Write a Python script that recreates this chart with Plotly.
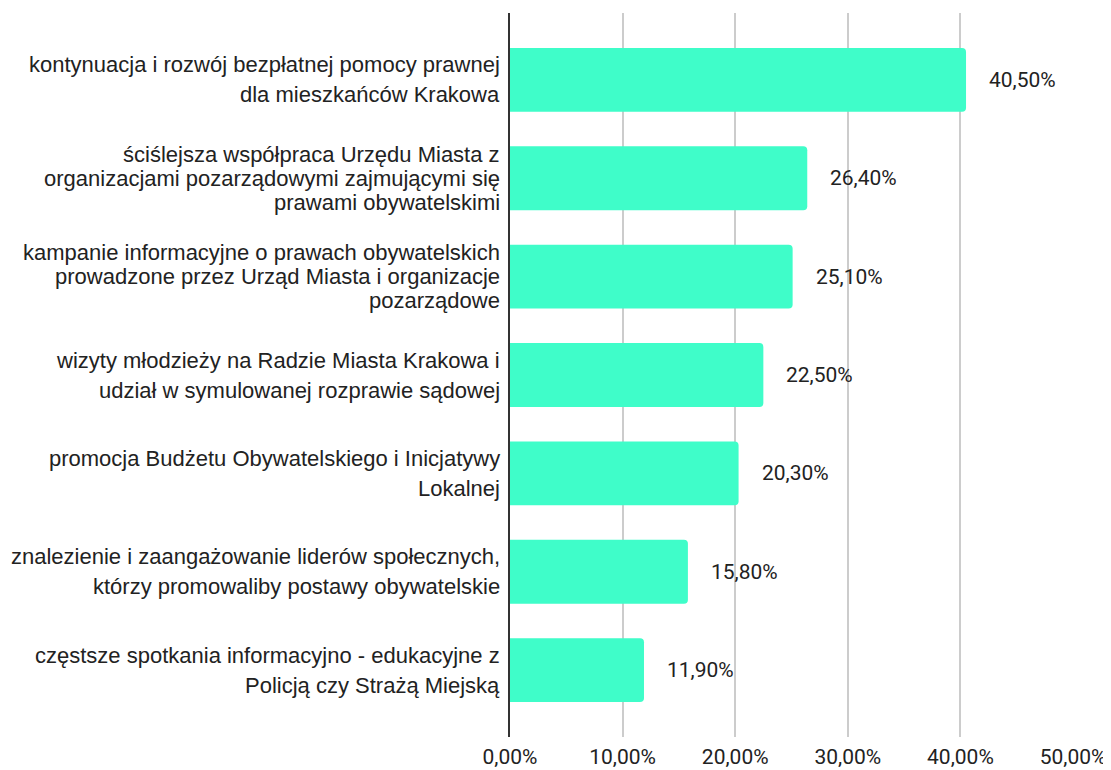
import plotly.graph_objects as go

category_lines = [
    ["kontynuacja i rozwój bezpłatnej pomocy prawnej", "dla mieszkańców Krakowa"],
    ["ściślejsza współpraca Urzędu Miasta z", "organizacjami pozarządowymi zajmującymi się", "prawami obywatelskimi"],
    ["kampanie informacyjne o prawach obywatelskich", "prowadzone przez Urząd Miasta i organizacje", "pozarządowe"],
    ["wizyty młodzieży na Radzie Miasta Krakowa i", "udział w symulowanej rozprawie sądowej"],
    ["promocja Budżetu Obywatelskiego i Inicjatywy", "Lokalnej"],
    ["znalezienie i zaangażowanie liderów społecznych,", "którzy promowaliby postawy obywatelskie"],
    ["częstsze spotkania informacyjno - edukacyjne z", "Policją czy Strażą Miejską"],
]
values = [0.405, 0.264, 0.251, 0.225, 0.203, 0.158, 0.119]
tick_values = [0, 0.1, 0.2, 0.3, 0.4, 0.5]

positions = list(range(len(category_lines)))
LINE_H = {2: 30, 3: 24}

fig = go.Figure()
fig.add_trace(go.Bar(
    x=values,
    y=positions,
    orientation="h",
    width=0.65,
    marker=dict(color="#3ffdc9", line=dict(width=0), cornerradius=4),
    hoverinfo="skip",
))

annotations = []
for p, v in zip(positions, values):
    annotations.append(dict(
        x=v, y=p, xref="x", yref="y",
        text=f"{v*100:.2f}%".replace(".", ","),
        showarrow=False, xanchor="left", yanchor="middle", xshift=21,
        font=dict(family="Roboto", size=21, color="#222222"),
    ))

for p, lines in zip(positions, category_lines):
    n = len(lines)
    lh = LINE_H.get(n, 26)
    for i, line in enumerate(lines):
        annotations.append(dict(
            x=0, y=p, xref="x", yref="y",
            text=line, showarrow=False,
            xanchor="right", yanchor="middle", xshift=-8,
            yshift=-(i - (n - 1) / 2) * lh,
            font=dict(family="Liberation Sans, Arial", size=22, color="#222222"),
        ))

fig.update_layout(
    width=1103, height=762,
    margin=dict(l=502, r=38, t=5, b=33, autoexpand=False),
    paper_bgcolor="white", plot_bgcolor="white",
    separators=",.",
    showlegend=False,
    annotations=annotations,
    font=dict(family="Liberation Sans, Arial", size=18, color="#222222"),
)
fig.update_xaxes(
    range=[0, 0.5],
    tickvals=tick_values,
    tickformat=".2%",
    automargin=False,
    showgrid=True, gridcolor="#cccccc", gridwidth=1.5,
    zeroline=False, showline=False,
    ticks="outside", ticklen=1, tickcolor="rgba(0,0,0,0)",
    tickfont=dict(family="Roboto", size=21, color="#222222"),
)
fig.update_yaxes(
    range=[6.68, -0.68],
    tickvals=positions,
    showticklabels=False,
    automargin=False,
    showgrid=False, zeroline=False,
    showline=True, linecolor="#333333", linewidth=1.5,
    ticks="",
)

fig.write_html("out.html")
